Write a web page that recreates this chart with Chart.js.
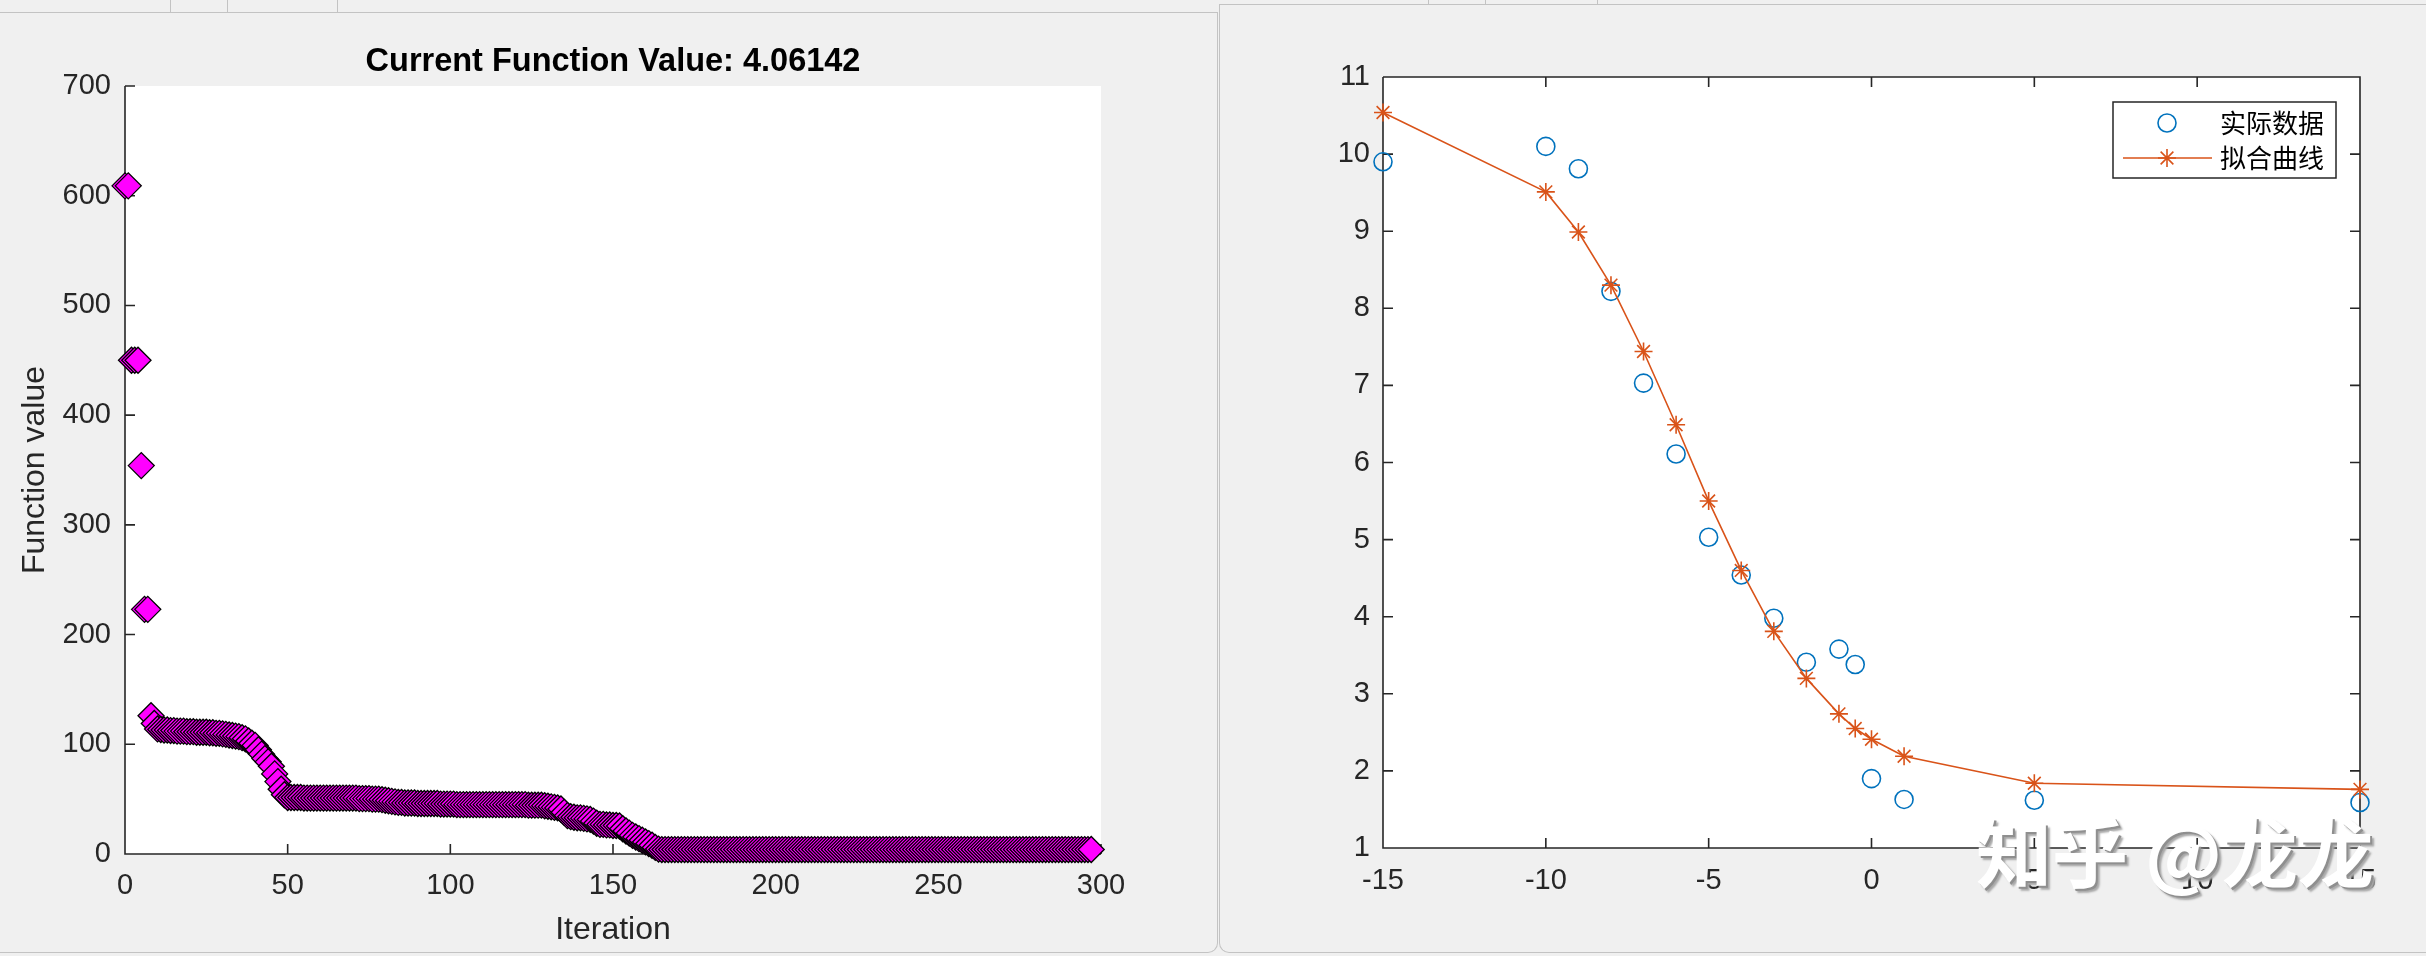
<!DOCTYPE html>
<html>
<head>
<meta charset="utf-8">
<script src="https://cdn.jsdelivr.net/npm/chart.js@4.4.1/dist/chart.umd.min.js"></script>
<style>
  body { margin: 0; width: 2426px; height: 956px; background: #f0f0f0; position: relative; overflow: hidden; }
  .frame { position: absolute; border: 0 solid #c3c3c3; box-sizing: border-box; }
  .sep { position: absolute; width: 1px; background: #c3c3c3; }
  .wrap { position: absolute; top: 0; height: 956px; }
  #leftWrap { left: 0; width: 1219px; }
  #rightWrap { left: 1220px; width: 1206px; }
  #mark {
    position: absolute; left: 1976px; top: 794px; white-space: nowrap;
    font: 700 76px "Noto Sans CJK SC", sans-serif; color: #fff;
    text-shadow: 2px 2px 0 #8f8f8f, 4px 4px 2px #a8a8a8;
  }
</style>
</head>
<body>
<div class="frame" style="left:0;top:12px;width:1218px;height:941px;border-top-width:1px;border-right-width:1px;border-bottom-width:1px;border-bottom-right-radius:10px;"></div>
<div class="frame" style="left:1219px;top:4px;width:1207px;height:949px;border-top-width:1px;border-left-width:1px;border-bottom-width:1px;border-bottom-left-radius:10px;"></div>
<div class="sep" style="left:170px;top:0;height:12px"></div>
<div class="sep" style="left:227px;top:0;height:12px"></div>
<div class="sep" style="left:337px;top:0;height:12px"></div>
<div class="sep" style="left:1428px;top:0;height:4px"></div>
<div class="sep" style="left:1485px;top:0;height:4px"></div>
<div class="sep" style="left:1597px;top:0;height:4px"></div>

<div class="wrap" id="leftWrap"><canvas id="iterChart"></canvas></div>
<div class="wrap" id="rightWrap"><canvas id="fitChart"></canvas></div>
<div id="mark">知乎 @龙龙</div>

<script>
// best function value per iteration
const fvals = [
  609, 609, 450, 450, 450, 354, 223, 223, 126, 119,
  114, 113.5, 113, 113, 112.5, 112.5, 112, 112, 112, 111.5,
  111.5, 111.5, 111, 111, 111, 111, 110.5, 110.5, 110, 110,
  109.5, 109, 108.5, 108, 107.5, 107, 106, 105, 103, 101,
  99, 95, 91, 87, 84, 80, 73, 66, 59, 54,
  51.5, 51.5, 51.5, 51.5, 51.5, 51, 51, 51, 51, 51,
  51, 51, 51, 51, 51, 51, 51, 51, 51, 51,
  51, 51, 50.5, 50.5, 50.5, 50.5, 50, 50, 50, 49.5,
  49, 48.5, 48, 47.5, 47, 47, 46.5, 46.5, 46.5, 46.5,
  46, 46, 46, 46, 46, 46, 46, 45.5, 45.5, 45.5,
  45.5, 45.5, 45, 45, 45, 45, 45, 45, 45, 45,
  45, 45, 45, 45, 45, 45, 45, 45, 45, 45,
  45, 45, 45, 45, 44.5, 44.5, 44.5, 44.5, 44.5, 44,
  43.5, 43, 42.5, 42, 41, 38, 35, 34, 33.5, 33,
  33, 32.5, 32, 31.5, 30, 28, 27, 27, 26.5, 26.5,
  26, 26, 25.5, 23, 21, 19, 17, 15.5, 14, 12.5,
  11, 9.5, 8, 6, 4.5,
  4.06, 4.06, 4.06, 4.06, 4.06, 4.06, 4.06, 4.06, 4.06, 4.06, 4.06, 4.06, 4.06, 4.06, 4.06, 4.06, 4.06, 4.06, 4.06,
  4.06, 4.06, 4.06, 4.06, 4.06, 4.06, 4.06, 4.06, 4.06, 4.06, 4.06, 4.06, 4.06, 4.06, 4.06, 4.06, 4.06, 4.06, 4.06,
  4.06, 4.06, 4.06, 4.06, 4.06, 4.06, 4.06, 4.06, 4.06, 4.06, 4.06, 4.06, 4.06, 4.06, 4.06, 4.06, 4.06, 4.06, 4.06,
  4.06, 4.06, 4.06, 4.06, 4.06, 4.06, 4.06, 4.06, 4.06, 4.06, 4.06, 4.06, 4.06, 4.06, 4.06, 4.06, 4.06, 4.06, 4.06,
  4.06, 4.06, 4.06, 4.06, 4.06, 4.06, 4.06, 4.06, 4.06, 4.06, 4.06, 4.06, 4.06, 4.06, 4.06, 4.06, 4.06, 4.06, 4.06,
  4.06, 4.06, 4.06, 4.06, 4.06, 4.06, 4.06, 4.06, 4.06, 4.06, 4.06, 4.06, 4.06, 4.06, 4.06, 4.06, 4.06, 4.06, 4.06,
  4.06, 4.06, 4.06, 4.06, 4.06, 4.06, 4.06, 4.06, 4.06, 4.06, 4.06, 4.06, 4.06, 4.06, 4.06, 4.06, 4.06, 4.06, 4.06142
];

// right plot: measured points and fitted curve
const xVals = [-15, -10, -9, -8, -7, -6, -5, -4, -3, -2, -1, -0.5, 0, 1, 5, 15];
const measured = [9.90, 10.10, 9.81, 8.22, 7.03, 6.11, 5.03, 4.54, 3.98, 3.41, 3.58, 3.38, 1.90, 1.63, 1.62, 1.59];
const fitted = [10.54, 9.51, 8.99, 8.30, 7.44, 6.49, 5.50, 4.60, 3.81, 3.20, 2.74, 2.55, 2.41, 2.19, 1.84, 1.76];
const seriesNames = ['实际数据', '拟合曲线'];

const axisColor = '#262626';
const sansFamily = '"Liberation Sans", Arial, Helvetica, sans-serif';

// white axes background + inward ticks like matlab
const matlabAxes = {
    id: 'matlabAxes',
    beforeDraw(chart) {
        const { ctx, chartArea: a } = chart;
        ctx.save();
        ctx.fillStyle = '#ffffff';
        ctx.fillRect(a.left, a.top, a.right - a.left, a.bottom - a.top);
        ctx.restore();
    },
    beforeDatasetsDraw(chart, args, opts) {
        const { ctx, chartArea: a, scales } = chart;
        const len = opts.tickLength;
        ctx.save();
        ctx.strokeStyle = opts.color;
        ctx.lineWidth = opts.lineWidth;
        ctx.beginPath();
        ctx.moveTo(a.left, a.top);
        ctx.lineTo(a.left, a.bottom);
        ctx.lineTo(a.right, a.bottom);
        if (opts.box) {
            ctx.lineTo(a.right, a.top);
            ctx.lineTo(a.left, a.top);
        }
        scales.x.ticks.forEach((t, i) => {
            const px = scales.x.getPixelForTick(i);
            ctx.moveTo(px, a.bottom); ctx.lineTo(px, a.bottom - len);
            if (opts.box) { ctx.moveTo(px, a.top); ctx.lineTo(px, a.top + len); }
        });
        scales.y.ticks.forEach((t, i) => {
            const py = scales.y.getPixelForTick(i);
            ctx.moveTo(a.left, py); ctx.lineTo(a.left + len, py);
            if (opts.box) { ctx.moveTo(a.right, py); ctx.lineTo(a.right - len, py); }
        });
        ctx.stroke();
        ctx.restore();
    }
};

// legend box inside the axes (north-east)
const boxLegend = {
    id: 'boxLegend',
    afterDraw(chart, args, opts) {
        if (!opts.display) return;
        const { ctx, chartArea: a } = chart;
        const x0 = a.right - opts.right - opts.width;
        const y0 = a.top + opts.top;
        ctx.save();
        ctx.fillStyle = '#ffffff';
        ctx.fillRect(x0, y0, opts.width, opts.height);
        ctx.strokeStyle = axisColor;
        ctx.lineWidth = 1.5;
        ctx.strokeRect(x0, y0, opts.width, opts.height);
        chart.data.datasets.forEach((ds, i) => {
            const cy = y0 + opts.rowTop + i * opts.rowGap;
            const mx = x0 + 54;
            if (ds.showLine) {
                ctx.strokeStyle = ds.borderColor;
                ctx.lineWidth = ds.borderWidth;
                ctx.beginPath();
                ctx.moveTo(x0 + 10, cy);
                ctx.lineTo(x0 + 99, cy);
                ctx.stroke();
            }
            ctx.strokeStyle = ds.borderColor;
            ctx.fillStyle = 'rgba(0,0,0,0)';
            ctx.lineWidth = ds.pointBorderWidth;
            Chart.helpers.drawPoint(ctx, { pointStyle: ds.pointStyle, radius: ds.pointRadius, borderWidth: ds.pointBorderWidth, rotation: 0 }, mx, cy);
            ctx.fillStyle = '#000000';
            ctx.font = '26px "Noto Sans CJK SC", sans-serif';
            ctx.textBaseline = 'middle';
            ctx.textAlign = 'left';
            ctx.fillText(ds.label, x0 + 107, cy);
        });
        ctx.restore();
    }
};

function tickFont() { return { family: sansFamily, size: 29 }; }

// Left: optimisation progress
new Chart(document.getElementById('iterChart'), {
    type: 'scatter',
    data: {
        datasets: [{
            label: 'Function value',
            data: fvals.map((v, i) => ({ x: i, y: v })),
            pointStyle: 'rectRot',
            pointRadius: 13,
            pointHoverRadius: 13,
            backgroundColor: '#ff00ff',
            borderColor: '#000000',
            borderWidth: 1.3,
            clip: false
        }]
    },
    options: {
        responsive: true,
        maintainAspectRatio: false,
        animation: false,
        events: [],
        layout: { padding: { top: 0, right: 118, bottom: 0, left: 0 } },
        plugins: {
            legend: { display: false },
            tooltip: { enabled: false },
            title: {
                display: true,
                fullSize: false,
                text: 'Current Function Value: ' + fvals[fvals.length - 1],
                color: '#000000',
                font: { family: sansFamily, size: 32.5, weight: 'bold' },
                padding: { top: 43, bottom: 4 }
            },
            matlabAxes: { box: false, tickLength: 10, color: axisColor, lineWidth: 1.6 }
        },
        scales: {
            x: {
                type: 'linear', min: 0, max: 300,
                afterFit: s => { s.height = 102; },
                grid: { display: false, drawTicks: false },
                border: { display: false },
                ticks: { stepSize: 50, padding: 15, color: axisColor, font: tickFont(), maxRotation: 0 },
                title: { display: true, text: 'Iteration', color: axisColor, font: { family: sansFamily, size: 32 }, padding: { top: 0, bottom: 7 } }
            },
            y: {
                type: 'linear', min: 0, max: 700,
                afterFit: s => { s.width = 125; },
                grid: { display: false, drawTicks: false },
                border: { display: false },
                ticks: { stepSize: 100, padding: 14, color: axisColor, font: tickFont() },
                title: { display: true, text: 'Function value', color: axisColor, font: { family: sansFamily, size: 32 }, padding: { top: 16, bottom: 0 } }
            }
        }
    },
    plugins: [matlabAxes]
});

// Right: data vs fitted curve
new Chart(document.getElementById('fitChart'), {
    type: 'scatter',
    data: {
        datasets: [{
            label: seriesNames[0],
            data: xVals.map((x, i) => ({ x: x, y: measured[i] })),
            showLine: false,
            pointStyle: 'circle',
            pointRadius: 9,
            pointHoverRadius: 9,
            pointBorderWidth: 1.6,
            borderColor: '#0072BD',
            backgroundColor: 'rgba(0,0,0,0)',
            clip: false,
            order: 1
        }, {
            label: seriesNames[1],
            data: xVals.map((x, i) => ({ x: x, y: fitted[i] })),
            showLine: true,
            borderWidth: 1.6,
            borderColor: '#D95319',
            backgroundColor: 'rgba(0,0,0,0)',
            pointStyle: 'star',
            pointRadius: 9,
            pointHoverRadius: 9,
            pointBorderWidth: 1.6,
            clip: false,
            order: 0
        }]
    },
    options: {
        responsive: true,
        maintainAspectRatio: false,
        animation: false,
        events: [],
        layout: { padding: { top: 77, right: 66, bottom: 0, left: 0 } },
        plugins: {
            legend: { display: false },
            tooltip: { enabled: false },
            matlabAxes: { box: true, tickLength: 10, color: axisColor, lineWidth: 1.6 },
            boxLegend: { display: true, right: 24, top: 25, width: 223, height: 76, rowTop: 21, rowGap: 35 }
        },
        scales: {
            x: {
                type: 'linear', min: -15, max: 15,
                afterFit: s => { s.height = 108; },
                grid: { display: false, drawTicks: false },
                border: { display: false },
                ticks: { stepSize: 5, padding: 16, color: axisColor, font: tickFont(), maxRotation: 0 }
            },
            y: {
                type: 'linear', min: 1, max: 11,
                afterFit: s => { s.width = 163; },
                grid: { display: false, drawTicks: false },
                border: { display: false },
                ticks: { stepSize: 1, padding: 13, color: axisColor, font: tickFont() }
            }
        }
    },
    plugins: [matlabAxes, boxLegend]
});
</script>
</body>
</html>
